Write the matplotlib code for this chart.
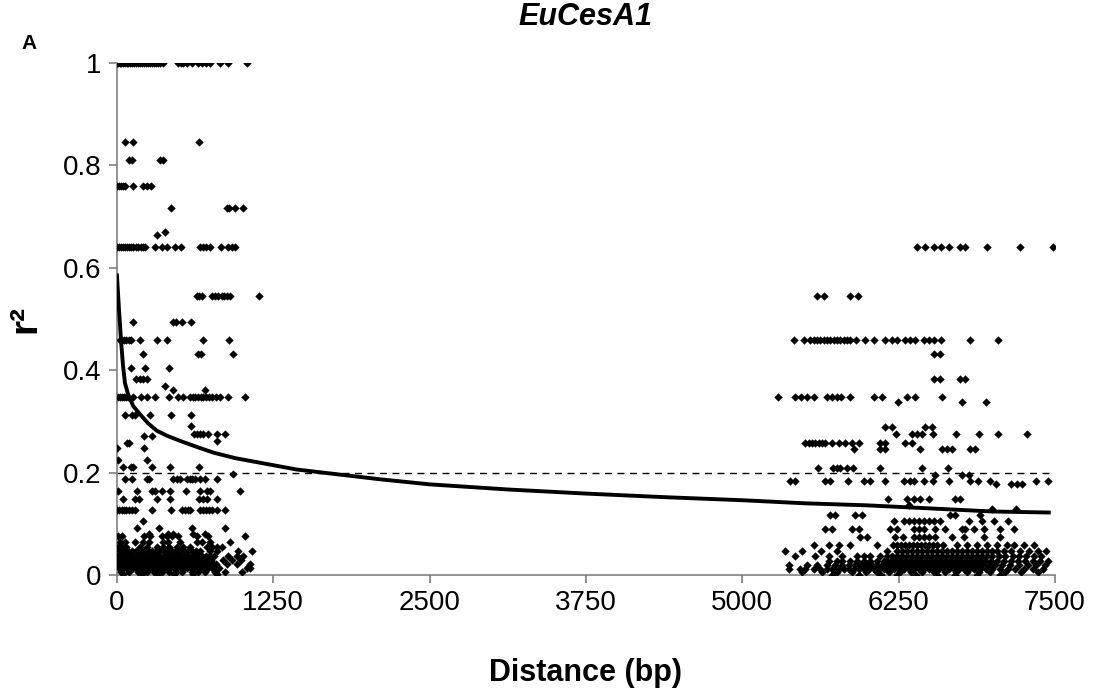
import matplotlib
matplotlib.use("Agg")
import matplotlib.pyplot as plt

plt.rcParams['font.family'] = ['Liberation Sans', 'DejaVu Sans']

# pairwise LD values: (r2, distances in bp)
left_rows = [
    (1.00, [0, 10, 22, 35, 50, 62, 78, 90, 105, 120, 136, 150, 168, 182, 200, 215, 232, 248,
            262, 280, 296, 312, 330, 348, 366, 488, 510, 530, 560, 600, 648, 680, 712, 744,
            824, 888, 1040]),
    (0.846, [64, 125, 656]),
    (0.81, [96, 120, 344, 368]),
    (0.76, [0, 16, 32, 48, 64, 128, 205, 237, 270]),
    (0.717, [432, 880, 896, 944, 1008]),
    (0.67, [384]),
    (0.665, [320]),
    (0.64, [0, 16, 32, 48, 64, 80, 96, 112, 130, 150, 170, 190, 208, 224, 304, 357, 397, 464,
            512, 664, 690, 712, 744, 832, 888, 917, 944]),
    (0.545, [640, 656, 680, 760, 784, 808, 840, 856, 880, 904, 1136]),
    (0.494, [125, 445, 470, 517, 589]),
    (0.459, [24, 40, 56, 72, 96, 112, 184, 323, 403, 691, 899]),
    (0.432, [205, 648, 670, 931]),
    (0.404, [109, 224, 419]),
    (0.383, [152, 184, 208, 240]),
    (0.369, [384]),
    (0.361, [451, 704]),
    (0.348, [8, 24, 40, 56, 72, 88, 128, 192, 237, 304, 413, 488, 528, 584, 608, 624, 648, 672,
             688, 712, 736, 760, 792, 824, 888, 1024]),
    (0.3125, [64, 117, 144, 264, 432, 589]),
    (0.291, [589]),
    (0.275, [619, 640, 664, 688, 730, 797, 864]),
    (0.271, [219, 277]),
    (0.262, [797]),
    (0.258, [77, 99]),
    (0.248, [0, 219]),
    (0.225, [8, 237]),
    (0.211, [48, 112, 128, 277, 424, 656]),
    (0.197, [925]),
    (0.1875, [64, 117, 237, 259, 445, 477, 504, 562, 584, 597, 624, 664, 704, 802]),
    (0.165, [11, 157, 277, 304, 357, 424, 549, 664, 717, 744, 984]),
    (0.149, [51, 144, 179, 317, 424, 656, 691, 717, 802]),
    (0.127, [0, 16, 40, 56, 72, 96, 120, 144, 277, 432, 517, 541, 565, 584, 664, 688, 712, 736,
             760, 800, 864]),
    (0.106, [205]),
    (0.091, [157, 338, 597, 864]),
    (0.081, [258, 405, 445, 610, 704]),
    (0.076, [11, 37, 219, 264, 357, 397, 437, 490, 637, 730, 1024]),
    (0.065, [24, 64, 144, 211, 258, 370, 410, 504, 637, 677, 744, 904]),
    (0.055, [8, 40, 72, 184, 237, 317, 365, 413, 477, 530, 584, 717, 757, 797, 837]),
    (0.046, [24, 56, 88, 120, 152, 184, 216, 248, 280, 312, 344, 376, 408, 440, 472, 504, 536,
             568, 600, 632, 664, 744, 797, 970, 1077]),
    (0.038, [0, 28, 52, 76, 108, 132, 160, 188, 212, 244, 268, 296, 324, 348, 380, 404, 432, 460,
             488, 516, 548, 572, 600, 628, 652, 684, 712, 740, 772, 890, 957, 1010]),
    (0.030, [12, 40, 68, 92, 120, 148, 176, 200, 228, 256, 284, 312, 336, 364, 392, 420, 448, 476,
             500, 528, 556, 584, 612, 640, 668, 696, 724, 752, 850, 920, 990]),
    (0.021, [4, 32, 60, 84, 112, 140, 164, 192, 220, 248, 276, 300, 328, 356, 384, 408, 436, 464,
             492, 520, 544, 572, 600, 628, 656, 680, 708, 736, 764, 792, 880, 960, 1064]),
    (0.013, [20, 48, 76, 104, 128, 156, 184, 212, 240, 264, 292, 320, 348, 376, 400, 428, 456,
             484, 512, 536, 564, 592, 620, 648, 672, 700, 728, 756, 784, 812, 1040, 1064]),
    (0.006, [30, 100, 170, 240, 300, 360, 420, 470, 520, 600, 650, 700, 780, 860, 1000]),
    (0.001, [50, 200, 330, 460, 610, 800]),
]

right_rows = [
    (0.64, [6400, 6460, 6530, 6590, 6650, 6740, 6780, 6960, 7220, 7480]),
    (0.545, [5597, 5651, 5864, 5923]),
    (0.458, [5411, 5491, 5544, 5571, 5597, 5624, 5651, 5677, 5704, 5731, 5757, 5784, 5811, 5837,
             5864, 5912, 5984, 6051, 6144, 6197, 6237, 6304, 6344, 6384, 6451, 6491, 6531, 6590,
             6824, 7045]),
    (0.431, [6531, 6584]),
    (0.383, [6531, 6584, 6744, 6784]),
    (0.348, [5282, 5424, 5472, 5517, 5571, 5677, 5717, 5757, 5789, 5859, 6051, 6117, 6317, 6384,
             6597]),
    (0.337, [6243, 6757, 6952]),
    (0.29, [6144, 6197, 6464, 6517]),
    (0.275, [6232, 6357, 6397, 6437, 6525, 6712, 6891, 7045, 7272]),
    (0.258, [5504, 5531, 5557, 5584, 5611, 5637, 5664, 5717, 5771, 5824, 5877, 5931, 6104, 6144,
             6304, 6357]),
    (0.247, [5896, 6104, 6144, 6424, 6597, 6637, 6677, 6819, 6864]),
    (0.208, [5603, 5728, 5755, 5781, 5835, 5888, 6104, 6437, 6645]),
    (0.195, [6544, 6757, 6811]),
    (0.184, [5384, 5424, 5664, 5704, 5845, 5971, 6024, 6139, 6291, 6344, 6371, 6451, 6523, 6656,
             6819, 6883, 6984, 7349, 7445]),
    (0.178, [7032, 7144, 7197, 7237]),
    (0.148, [6165, 6317, 6371, 6424, 6491, 6704, 6744]),
    (0.137, [6331]),
    (0.129, [6997, 7189]),
    (0.118, [5704, 5744, 5904, 5957, 6664, 6704, 6904]),
    (0.106, [6216, 6291, 6331, 6371, 6411, 6451, 6491, 6531, 6584, 6811, 6917, 7011, 7125]),
    (0.09, [5664, 5717, 5877, 5931, 6184, 6237, 6371, 6411, 6451, 6544, 6624, 6757, 6784, 6851,
            6931, 7064, 7171]),
    (0.075, [5944, 5997, 6224, 6288, 6371, 6411, 6451, 6491, 6544, 6677, 6771, 6931, 7064]),
    (0.059, [5571, 5691, 5771, 5864, 6077, 6208, 6240, 6272, 6304, 6336, 6368, 6400, 6432, 6464,
             6496, 6528, 6560, 6608, 6717, 6797, 6877, 6957, 7037, 7117, 7171, 7251, 7331]),
    (0.046, [5344, 5480, 5632, 5760, 6157, 6240, 6280, 6320, 6360, 6400, 6440, 6480, 6520, 6560,
             6600, 6640, 6680, 6720, 6760, 6800, 6840, 6880, 6920, 6960, 7000, 7040, 7090, 7150,
             7220, 7290, 7360, 7424]),
    (0.037, [5424, 5584, 5691, 5797, 5917, 5971, 6024, 6100, 6157, 6200, 6240, 6280, 6320, 6360,
             6400, 6440, 6480, 6520, 6560, 6600, 6640, 6680, 6720, 6760, 6800, 6840, 6880, 6920,
             6960, 7000, 7050, 7100, 7160, 7210, 7270, 7330, 7390]),
    (0.028, [5691, 5760, 5797, 5860, 5917, 5971, 6024, 6080, 6130, 6157, 6190, 6220, 6260, 6300,
             6340, 6380, 6420, 6460, 6500, 6540, 6580, 6620, 6660, 6700, 6740, 6780, 6820, 6860,
             6900, 6940, 6990, 7040, 7090, 7150, 7200, 7260, 7320, 7380, 7440]),
    (0.020, [5371, 5520, 5600, 5680, 5740, 5800, 5850, 5900, 5950, 6000, 6040, 6080, 6120, 6160,
             6200, 6240, 6280, 6320, 6360, 6400, 6440, 6480, 6520, 6560, 6600, 6640, 6680, 6720,
             6760, 6800, 6840, 6880, 6920, 6970, 7020, 7080, 7140, 7210, 7280, 7350, 7420]),
    (0.012, [5371, 5464, 5504, 5571, 5624, 5680, 5720, 5770, 5810, 5850, 5890, 5930, 5970, 6010,
             6050, 6090, 6130, 6170, 6210, 6250, 6290, 6330, 6370, 6410, 6450, 6490, 6530, 6570,
             6610, 6650, 6690, 6730, 6770, 6810, 6850, 6900, 6950, 7000, 7060, 7120, 7180, 7250,
             7320, 7400]),
    (0.005, [5480, 5640, 5760, 5880, 5990, 6080, 6170, 6260, 6350, 6440, 6530, 6620, 6710, 6800,
             6890, 6980, 7100, 7230, 7360]),
    (0.0, [5720, 5930, 6110, 6240, 6390, 6560, 6700, 6880, 7060]),
]

# fitted decay curve
trend_x = [0, 16, 32, 48, 64, 90, 130, 184, 250, 317, 400, 504, 640, 771, 950, 1171, 1437,
           1750, 2100, 2500, 3125, 3750, 4375, 5000, 5500, 6000, 6500, 7000, 7450]
trend_y = [0.585, 0.52, 0.46, 0.41, 0.375, 0.352, 0.33, 0.314, 0.296, 0.282, 0.272, 0.262,
           0.25, 0.239, 0.228, 0.218, 0.206, 0.197, 0.187, 0.177, 0.167, 0.159, 0.152, 0.146,
           0.140, 0.136, 0.130, 0.124, 0.122]

threshold = 0.2
x_ticks = [0, 1250, 2500, 3750, 5000, 6250, 7500]
y_ticks = [0, 0.2, 0.4, 0.6, 0.8, 1]
y_ticklabels = ['0', '0.2', '0.4', '0.6', '0.8', '1']

dist = []
r2 = []
for level, xs in left_rows + right_rows:
    dist += xs
    r2 += [level] * len(xs)

fig = plt.figure(figsize=(10.95, 7), dpi=100)
ax = fig.add_axes([0.1068, 0.1786, 0.8567, 0.7314])

ax.scatter(dist, r2, marker='D', s=18, color='black', linewidths=0, zorder=3)
ax.plot([0, 7450], [threshold, threshold], color='black', lw=1, dashes=(5, 4), zorder=2)
ax.plot(trend_x, trend_y, color='black', lw=2.8, zorder=4)

ax.set_xlim(0, 7500)
ax.set_ylim(0, 1)
ax.set_xticks(x_ticks)
ax.set_xticklabels([str(t) for t in x_ticks])
ax.set_yticks(y_ticks)
ax.set_yticklabels(y_ticklabels)

for s in ['top', 'right']:
    ax.spines[s].set_visible(False)
for s in ['left', 'bottom']:
    ax.spines[s].set_color('#808080')
    ax.spines[s].set_linewidth(1.2)
ax.tick_params(axis='both', direction='out', length=6, width=1.2, color='#808080',
               labelsize=20, pad=5)

ax.set_xlabel('Distance (bp)', fontsize=22, fontweight='bold', labelpad=30)
ax.set_ylabel('r²', fontsize=28, fontweight='bold', labelpad=14)
fig.text(0.535, 0.997, 'EuCesA1', fontsize=22, fontweight='bold', fontstyle='italic',
         ha='center', va='top')
fig.text(0.02, 0.93, 'A', fontsize=15, fontweight='bold')

fig.savefig('out.png', dpi=100)
